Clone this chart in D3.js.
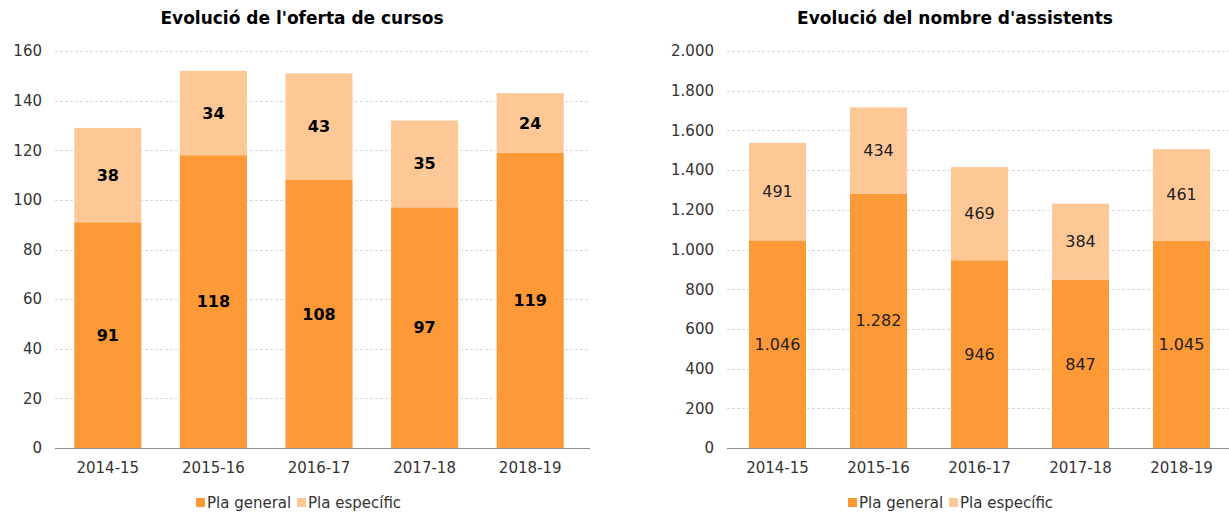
<!DOCTYPE html>
<html>
<head>
<meta charset="utf-8">
<script src="https://cdn.jsdelivr.net/npm/d3@7"></script>
<style>
  html, body { margin: 0; padding: 0; background: #fff; }
  svg { display: block; font-family: "DejaVu Sans", Verdana, sans-serif; }
</style>
</head>
<body>
<svg id="chart" width="1229" height="512"></svg>
<script>
// Academic years shared by both panels
const years = ["2014-15", "2015-16", "2016-17", "2017-18", "2018-19"];
const seriesNames = ["Pla general", "Pla específic"];

// Courses offered
const coursesGeneral = [91, 118, 108, 97, 119];
const coursesSpecific = [38, 34, 43, 35, 24];
const coursesTicks = [0, 20, 40, 60, 80, 100, 120, 140, 160];

// Attendees
const attendeesGeneral = [1046, 1282, 946, 847, 1045];
const attendeesSpecific = [491, 434, 469, 384, 461];
const attendeesTicks = [0, 200, 400, 600, 800, 1000, 1200, 1400, 1600, 1800, 2000];

const colors = ["#fd9937", "#fec896"];
const fmt = v => d3.format(",")(v).replace(/,/g, ".");

const svg = d3.select("#chart");

function drawPanel(opt) {
  const g = svg.append("g");
  const x = d3.scaleBand().domain(years).range(opt.xRange).paddingInner(opt.pad).paddingOuter(opt.pad / 2);
  const y = d3.scaleLinear().domain([0, opt.ticks[opt.ticks.length - 1]]).range([448, 51]);

  // title
  g.append("text")
    .attr("x", opt.titleX).attr("y", 24)
    .attr("text-anchor", "middle")
    .attr("font-size", 17).attr("font-weight", "bold").attr("fill", "#000")
    .text(opt.title);

  // gridlines
  g.selectAll(".grid").data(opt.ticks.slice(1)).join("line")
    .attr("x1", opt.gridX[0]).attr("x2", opt.gridX[1])
    .attr("y1", d => Math.round(y(d)) + 0.5).attr("y2", d => Math.round(y(d)) + 0.5)
    .attr("stroke", "#d9d9d9").attr("stroke-dasharray", "3,2").attr("stroke-width", 1);

  // y axis labels
  const yAxis = d3.axisLeft(y).tickValues(opt.ticks).tickFormat(fmt).tickSize(0).tickPadding(0);
  const ya = g.append("g").attr("transform", `translate(${opt.yLabelX},0)`).call(yAxis);
  ya.select(".domain").remove();
  ya.selectAll("text").attr("font-size", 15).attr("fill", "#333").attr("font-family", "DejaVu Sans, Verdana, sans-serif");

  // stacked bars
  const rows = years.map((yr, i) => ({ year: yr, general: opt.general[i], specific: opt.specific[i] }));
  const stacked = d3.stack().keys(["general", "specific"])(rows);
  stacked.forEach((layer, li) => {
    g.append("g").selectAll("rect").data(layer).join("rect")
      .attr("x", d => x(d.data.year))
      .attr("width", x.bandwidth())
      .attr("y", d => y(d[1]))
      .attr("height", d => y(d[0]) - y(d[1]))
      .attr("fill", colors[li]);
    g.append("g").selectAll("text").data(layer).join("text")
      .attr("x", d => x(d.data.year) + x.bandwidth() / 2)
      .attr("y", d => (y(d[0]) + y(d[1])) / 2)
      .attr("dy", "0.35em")
      .attr("text-anchor", "middle")
      .attr("font-size", 16)
      .attr("font-weight", opt.bold ? "bold" : "normal")
      .attr("fill", opt.bold ? "#000" : "#222")
      .text(d => fmt(d[1] - d[0]));
  });

  // baseline and x labels
  const xAxis = d3.axisBottom(x).tickSize(0).tickPadding(14);
  const xa = g.append("g").attr("transform", "translate(0,448.5)").call(xAxis);
  xa.select(".domain").attr("stroke", "#8c8c8c").attr("d", `M${opt.gridX[0]},0H${opt.gridX[1]}`);
  xa.selectAll("text").attr("font-size", 15).attr("fill", "#333").attr("font-family", "DejaVu Sans, Verdana, sans-serif");

  // legend
  const lg = g.append("g").attr("transform", "translate(0,508)");
  opt.legendX.forEach((lx, i) => {
    lg.append("rect").attr("x", lx).attr("y", -10).attr("width", 9).attr("height", 9).attr("fill", colors[i]);
    lg.append("text").attr("x", lx + 11).attr("y", 0).attr("font-size", 15).attr("fill", "#333").text(seriesNames[i]);
  });
}

drawPanel({
  title: "Evolució de l'oferta de cursos",
  titleX: 302,
  xRange: [55, 583],
  pad: 0.365,
  gridX: [55, 590],
  yLabelX: 42,
  ticks: coursesTicks,
  general: coursesGeneral,
  specific: coursesSpecific,
  bold: true,
  legendX: [196, 297]
});

drawPanel({
  title: "Evolució del nombre d'assistents",
  titleX: 955,
  xRange: [727, 1232],
  pad: 0.436,
  gridX: [727, 1229],
  yLabelX: 714,
  ticks: attendeesTicks,
  general: attendeesGeneral,
  specific: attendeesSpecific,
  bold: false,
  legendX: [848, 949]
});
</script>
</body>
</html>
